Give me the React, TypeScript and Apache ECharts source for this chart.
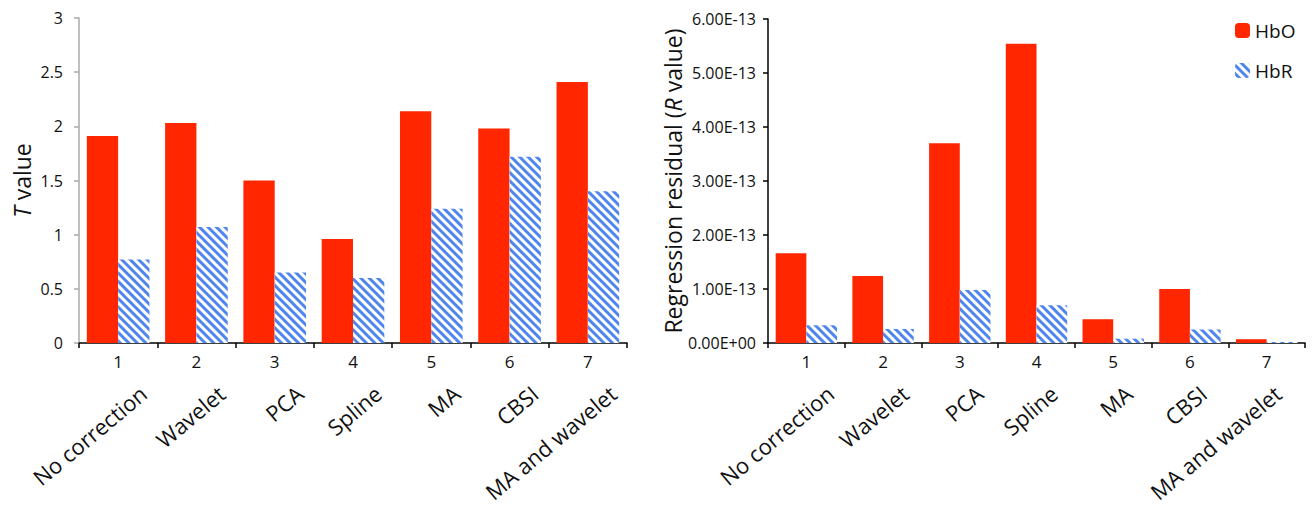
import React, { useEffect, useRef } from 'react';
import * as echarts from 'echarts';

const categories = ['1', '2', '3', '4', '5', '6', '7'];
const methods = ['No correction', 'Wavelet', 'PCA', 'Spline', 'MA', 'CBSI', 'MA and wavelet'];
const tHbO = [1.91, 2.03, 1.5, 0.96, 2.14, 1.98, 2.41];
const tHbR = [0.77, 1.07, 0.65, 0.6, 1.24, 1.72, 1.4];
const rHbO = [1.66e-13, 1.24e-13, 3.7e-13, 5.54e-13, 0.44e-13, 1.0e-13, 0.07e-13];
const rHbR = [0.33e-13, 0.26e-13, 0.98e-13, 0.7e-13, 0.08e-13, 0.25e-13, 0.02e-13];

const FONT = 'Open Sans';
const RED = '#ff2600';
const BLUE = '#4f86ee';
const SHIFT = 25;
const NAME_MARGIN = 47;

const hatch = {
  symbol: 'rect',
  dashArrayX: [1, 0],
  dashArrayY: [2.6, 2.6],
  symbolSize: 1,
  rotation: Math.PI / 4,
  color: BLUE,
};

function numberAxis(gridIndex: number) {
  return {
    type: 'category',
    gridIndex,
    data: categories,
    axisLine: { show: true, lineStyle: { color: '#000', width: 1.5 } },
    axisTick: { show: true, length: 5, lineStyle: { color: '#000', width: 1.5 } },
    axisLabel: { interval: 0, fontSize: 17, color: '#111', fontFamily: FONT, margin: 10 },
  };
}

function nameAxis(gridIndex: number) {
  return {
    type: 'category',
    gridIndex,
    data: methods,
    axisLine: { show: false },
    axisTick: { show: false },
    axisLabel: {
      interval: 0,
      rotate: 40,
      fontSize: 22,
      color: '#111',
      fontFamily: FONT,
      margin: NAME_MARGIN,
    },
  };
}

export default function App() {
  const ref = useRef<HTMLDivElement>(null);
  useEffect(() => {
    document.body.style.margin = '0';
    const chart = echarts.init(ref.current!, null, { renderer: 'svg' });
    chart.setOption({
      animation: false,
      backgroundColor: '#fff',
      textStyle: { fontFamily: FONT },
      legend: {
        orient: 'vertical',
        left: 1230,
        top: 16,
        itemWidth: 15,
        itemHeight: 15,
        itemGap: 21,
        data: ['HbO', 'HbR'],
        textStyle: { fontSize: 19, color: '#111', fontFamily: FONT },
      },
      grid: [
        { left: 79, top: 18, width: 548, height: 325 },
        { left: 79 + SHIFT, top: 18, width: 548, height: 325 },
        { left: 768, top: 19, width: 537, height: 324 },
        { left: 768 + SHIFT, top: 19, width: 537, height: 324 },
      ],
      xAxis: [numberAxis(0), nameAxis(1), numberAxis(2), nameAxis(3)],
      yAxis: [
        {
          type: 'value',
          gridIndex: 0,
          min: 0,
          max: 3,
          interval: 0.5,
          name: '{i|T} value',
          nameLocation: 'middle',
          nameGap: 46,
          nameTextStyle: {
            fontSize: 23,
            color: '#111',
            fontFamily: FONT,
            rich: { i: { fontStyle: 'italic', fontSize: 23, fontFamily: FONT, color: '#111' } },
          },
          axisLine: { show: true, lineStyle: { color: '#aaaaaa', width: 1.5 } },
          axisTick: { show: true, length: 5, lineStyle: { color: '#aaaaaa', width: 1.5 } },
          splitLine: { show: false },
          axisLabel: { fontSize: 16, color: '#111', fontFamily: FONT, margin: 16 },
        },
        { type: 'value', gridIndex: 1, show: false, splitLine: { show: false } },
        {
          type: 'value',
          gridIndex: 2,
          min: 0,
          max: 6e-13,
          interval: 1e-13,
          name: 'Regression residual ({i|R} value)',
          nameLocation: 'middle',
          nameGap: 84,
          nameTextStyle: {
            fontSize: 23,
            color: '#111',
            fontFamily: FONT,
            rich: { i: { fontStyle: 'italic', fontSize: 23, fontFamily: FONT, color: '#111' } },
          },
          axisLine: { show: true, lineStyle: { color: '#000', width: 1.5 } },
          axisTick: { show: true, length: 5, lineStyle: { color: '#000', width: 1.5 } },
          splitLine: { show: false },
          axisLabel: {
            fontSize: 16,
            color: '#111',
            fontFamily: FONT,
            margin: 12,
            formatter: (v: number) =>
              Math.abs(v) < 1e-20 ? '0.00E+00' : (v / 1e-13).toFixed(2) + 'E-13',
          },
        },
        { type: 'value', gridIndex: 3, show: false, splitLine: { show: false } },
      ],
      series: [
        {
          name: 'HbO',
          type: 'bar',
          xAxisIndex: 0,
          yAxisIndex: 0,
          data: tHbO,
          barGap: '0%',
          barCategoryGap: '20%',
          itemStyle: { color: RED },
        },
        {
          name: 'HbR',
          type: 'bar',
          xAxisIndex: 0,
          yAxisIndex: 0,
          data: tHbR,
          barGap: '0%',
          barCategoryGap: '20%',
          itemStyle: { color: '#ffffff', decal: hatch },
        },
        {
          name: 'HbO',
          type: 'bar',
          xAxisIndex: 2,
          yAxisIndex: 2,
          data: rHbO,
          barGap: '0%',
          barCategoryGap: '20%',
          itemStyle: { color: RED },
        },
        {
          name: 'HbR',
          type: 'bar',
          xAxisIndex: 2,
          yAxisIndex: 2,
          data: rHbR,
          barGap: '0%',
          barCategoryGap: '20%',
          itemStyle: { color: '#ffffff', decal: hatch },
        },
      ],
    });
    return () => chart.dispose();
  }, []);
  return <div ref={ref} style={{ width: 1315, height: 509 }} />;
}
